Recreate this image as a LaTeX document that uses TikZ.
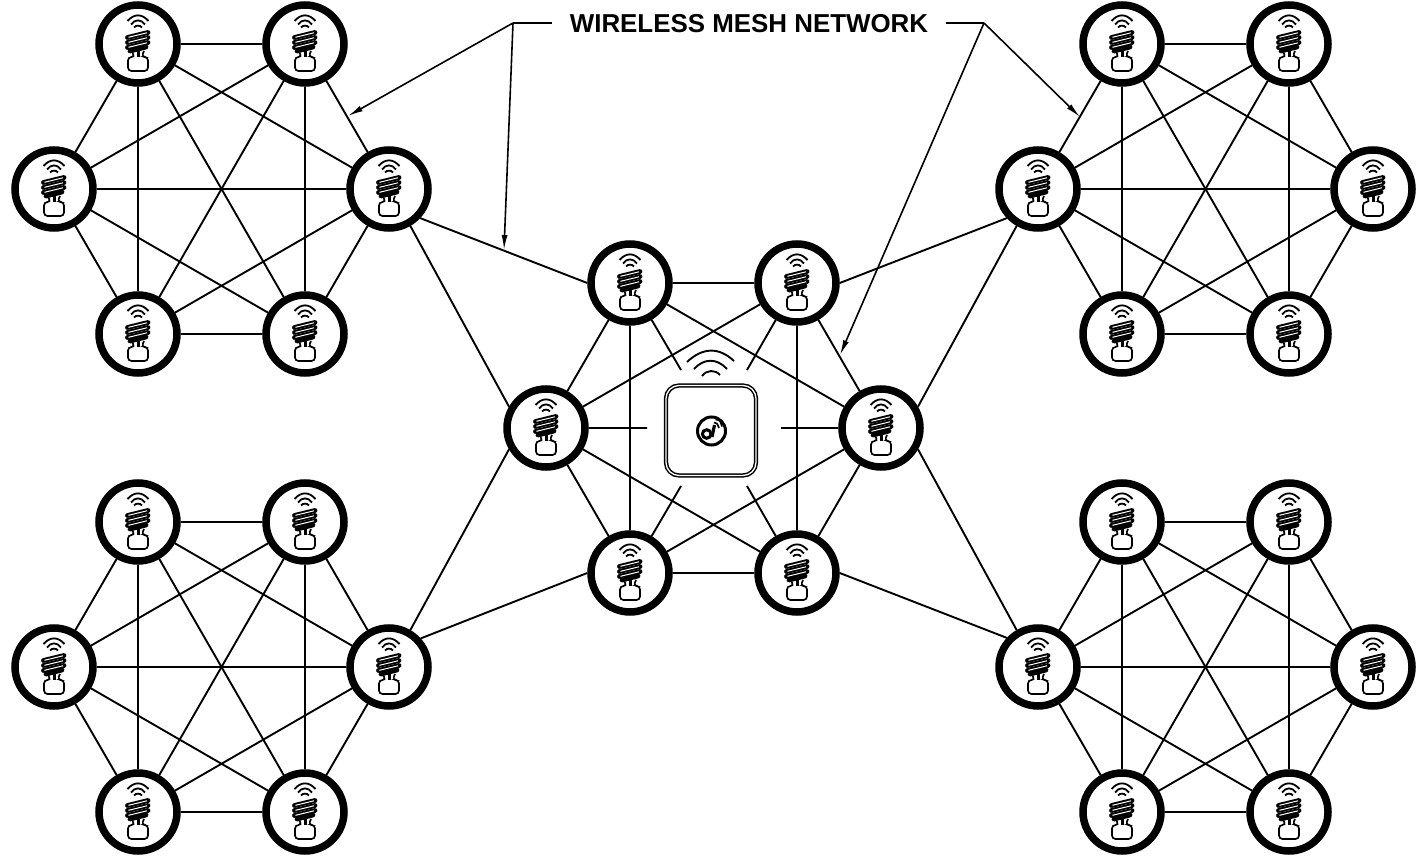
\documentclass[tikz,border=0pt]{standalone}
\usepackage{fontspec}
\setmainfont{Liberation Sans}
\usetikzlibrary{arrows.meta, positioning}

% one bulb, drawn round the middle of its ring
\newcommand{\bulbicon}{%
\begin{scope}[shift={(path picture bounding box.center)}, line width=1.8pt]
\draw (-10.5,-23) .. controls (-4,-30.5) and (4,-30.5) .. (10.5,-23);
\draw (-7,-19.5) .. controls (-3,-25) and (3,-25) .. (7,-19.5);
\draw (-4,-16.5) .. controls (-2,-19) and (2,-19) .. (4,-16.5);
\draw[line width=4.8pt, line cap=round] (-10.5,-6.5) -- (10,-11.5);
\draw[line width=4.8pt, line cap=round] (-10.5,-1.5) -- (10,-6.5);
\draw[line width=4.8pt, line cap=round] (-10.5,3.5) -- (10,-1.5);
\draw[line width=4.8pt, line cap=round] (-8,7) -- (8,3);
\draw[white, line width=1pt] (-9.5,-6.7) -- (9,-11.2);
\draw[white, line width=1pt] (-9.5,-1.7) -- (9,-6.2);
\draw[white, line width=1pt] (-9.5,3.3) -- (9,-1.2);
\draw[line width=3.2pt] (.5,6) -- (.5,13);
\draw[line width=1.7pt, rounded corners=3.5pt] (-6,8) -- (-3,13) -- (-10,13) -- (-10,27) -- (10,27) -- (10,13) -- (3.5,13) -- (6,7);
\end{scope}}

\begin{document}
\begin{tikzpicture}[
						x=1pt, y=-1pt,
						node distance={145pt and 84pt}, on grid,
						bulb/.style = {draw, circle, line width=7.5pt, minimum size=78pt, inner sep=0pt, path picture={\bulbicon}},
						link/.style = {line width=1.9pt},
						leader/.style = {line width=1.6pt, -{Latex[length=15pt, width=6pt]}},
						gatewaybox/.style = {draw, rectangle, rounded corners=13pt, minimum size=90pt, line width=1.5pt, double, double distance=1.3pt}
					]
\useasboundingbox (0,0) rectangle (1421,866);

% top left
\node[bulb] (a1) at (138,44) {};
\node[bulb] (a2) [right=167pt of a1] {};
\node[bulb] (a3) [below left=of a1] {};
\node[bulb] (a4) [below right=of a2] {};
\node[bulb] (a5) [below right=of a3] {};
\node[bulb] (a6) [below left=of a4] {};
% bottom left
\node[bulb] (b1) at (138,522) {};
\node[bulb] (b2) [right=167pt of b1] {};
\node[bulb] (b3) [below left=of b1] {};
\node[bulb] (b4) [below right=of b2] {};
\node[bulb] (b5) [below right=of b3] {};
\node[bulb] (b6) [below left=of b4] {};
% top right
\node[bulb] (c1) at (1122,44) {};
\node[bulb] (c2) [right=167pt of c1] {};
\node[bulb] (c3) [below left=of c1] {};
\node[bulb] (c4) [below right=of c2] {};
\node[bulb] (c5) [below right=of c3] {};
\node[bulb] (c6) [below left=of c4] {};
% bottom right
\node[bulb] (d1) at (1122,522) {};
\node[bulb] (d2) [right=167pt of d1] {};
\node[bulb] (d3) [below left=of d1] {};
\node[bulb] (d4) [below right=of d2] {};
\node[bulb] (d5) [below right=of d3] {};
\node[bulb] (d6) [below left=of d4] {};
% middle
\node[bulb] (m1) at (630,283) {};
\node[bulb] (m2) [right=167pt of m1] {};
\node[bulb] (m3) [below left=of m1] {};
\node[bulb] (m4) [below right=of m2] {};
\node[bulb] (m5) [below right=of m3] {};
\node[bulb] (m6) [below left=of m4] {};

\node[gatewaybox] (gateway) at (711,430.5) {};
\node[draw, circle, line width=3pt, minimum size=28pt, inner sep=0pt] (badge) at (711.5,431) {};
\draw[line width=3pt] (706.7,434) circle (4.3);
\draw[line width=3.2pt] (712,437) -- (714.5,425);
\draw[line width=1.7pt] (714,422.5) .. controls (717,423) .. (719,428);
\draw[line width=1.7pt] (715.5,419.5) .. controls (720,420) .. (722,426.5);
\draw[link] (687,362) .. controls (703,347) and (719,347) .. (734,361);
\draw[link] (694,369) .. controls (704,358) and (717,358) .. (727,369);
\draw[link] (702,376) .. controls (707,369.5) and (715,369.5) .. (720,375);

\node[font=\bfseries, inner xsep=18pt, inner ysep=0pt, anchor=base] (title) at (749,33) {\fontsize{25.9pt}{28pt}\selectfont WIRELESS MESH NETWORK};

\coordinate (hubl) at (513,23);
\coordinate (hubr) at (984,23);
\coordinate (tipa) at (348,116);
\coordinate (tipb) at (504,250);
\coordinate (tipc) at (1080,117);
\coordinate (tipd) at (840,355);
\coordinate (stub1) at (681,370);
\coordinate (stub2) at (747,370);
\coordinate (stub3) at (647,428);
\coordinate (stub4) at (781,428);
\coordinate (stub5) at (681,486);
\coordinate (stub6) at (747,486);

\draw[link] (a1) -- (a2) (a1) -- (a3) (a1) -- (a4) (a1) -- (a5) (a1) -- (a6);
\draw[link] (a2) -- (a3) (a2) -- (a4) (a2) -- (a5) (a2) -- (a6);
\draw[link] (a3) -- (a4) (a3) -- (a5) (a3) -- (a6);
\draw[link] (a4) -- (a5) (a4) -- (a6) (a5) -- (a6);

\draw[link] (b1) -- (b2) (b1) -- (b3) (b1) -- (b4) (b1) -- (b5) (b1) -- (b6);
\draw[link] (b2) -- (b3) (b2) -- (b4) (b2) -- (b5) (b2) -- (b6);
\draw[link] (b3) -- (b4) (b3) -- (b5) (b3) -- (b6);
\draw[link] (b4) -- (b5) (b4) -- (b6) (b5) -- (b6);

\draw[link] (c1) -- (c2) (c1) -- (c3) (c1) -- (c4) (c1) -- (c5) (c1) -- (c6);
\draw[link] (c2) -- (c3) (c2) -- (c4) (c2) -- (c5) (c2) -- (c6);
\draw[link] (c3) -- (c4) (c3) -- (c5) (c3) -- (c6);
\draw[link] (c4) -- (c5) (c4) -- (c6) (c5) -- (c6);

\draw[link] (d1) -- (d2) (d1) -- (d3) (d1) -- (d4) (d1) -- (d5) (d1) -- (d6);
\draw[link] (d2) -- (d3) (d2) -- (d4) (d2) -- (d5) (d2) -- (d6);
\draw[link] (d3) -- (d4) (d3) -- (d5) (d3) -- (d6);
\draw[link] (d4) -- (d5) (d4) -- (d6) (d5) -- (d6);

\draw[link] (m1) -- (m2) (m1) -- (m3) (m1) -- (m4) (m1) -- (m5) (m1) -- (stub1);
\draw[link] (m2) -- (m3) (m2) -- (m4) (m2) -- (stub2) (m2) -- (m6);
\draw[link] (m3) -- (stub3) (m3) -- (m5) (m3) -- (m6);
\draw[link] (m4) -- (stub4) (m4) -- (m5) (m4) -- (m6);
\draw[link] (m5) -- (stub5) (m5) -- (m6) (m6) -- (stub6);

% between the groups
\draw[link] (a4.-43) -- (m1.180) (a4.-60) -- (m3.150);
\draw[link] (b4.60) -- (m3.210) (b4.42) -- (m5.180);
\draw[link] (c3.223) -- (m2.0) (c3.240) -- (m4.30);
\draw[link] (d3.120) -- (m4.-30) (d3.137) -- (m6.0);

\draw[line width=1.6pt] (title.west |- hubl) -- (hubl);
\draw[line width=1.6pt] (title.east |- hubr) -- (hubr);
\draw[leader] (hubl) -- (tipa);
\draw[leader] (hubl) -- (tipb);
\draw[leader] (hubr) -- (tipc);
\draw[leader] (hubr) -- (tipd);
\end{tikzpicture}
\end{document}
